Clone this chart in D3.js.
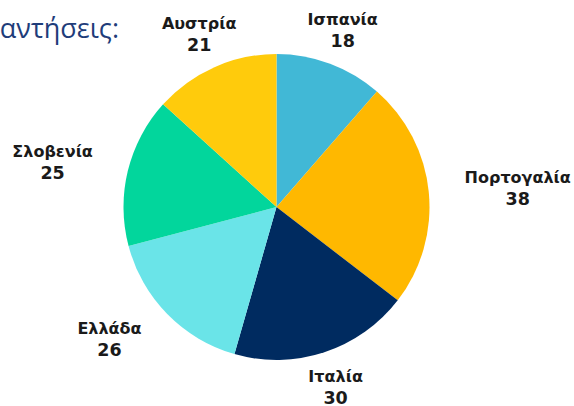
<!DOCTYPE html>
<html>
<head>
<meta charset="utf-8">
<script src="https://cdn.jsdelivr.net/npm/d3@7"></script>
<style>
  body { margin: 0; background: #fff; }
  svg { display: block; }
</style>
</head>
<body>
<div id="chart"></div>
<script>
// data, clockwise from 12 o'clock
var countries = ["Ισπανία", "Πορτογαλία", "Ιταλία", "Ελλάδα", "Σλοβενία", "Αυστρία"];
var answers = [18, 38, 30, 26, 25, 21];
var colors = ["#41B8D6", "#FFB800", "#002B60", "#6AE4E8", "#02D69C", "#FFCB0C"];
var title = "Απαντήσεις:";

var width = 574, height = 406,
    cx = 276.5, cy = 207,
    radius = 153,
    labelR = 189;

var svg = d3.select("#chart")
    .append("svg")
    .attr("width", width)
    .attr("height", height);

var rows = countries.map(function(c, i) {
    return { name: c, value: answers[i], color: colors[i] };
});

var pie = d3.pie()
    .sort(null)
    .value(function(d) { return d.value; });

var arc = d3.arc()
    .innerRadius(0)
    .outerRadius(radius);

var g = svg.append("g")
    .attr("transform", "translate(" + cx + "," + cy + ")");

var arcs = pie(rows);

g.selectAll("path")
    .data(arcs)
    .enter()
    .append("path")
    .attr("d", arc)
    .attr("fill", function(d) { return d.data.color; });

// title, cut off at the left edge like in the slide
svg.append("text")
    .attr("x", 119)
    .attr("y", 38)
    .attr("text-anchor", "end")
    .attr("font-family", "Open Sans, sans-serif")
    .attr("font-size", 27)
    .attr("fill", "#1F3D7A")
    .text(title);

var labels = g.selectAll("g.lbl")
    .data(arcs)
    .enter()
    .append("g")
    .attr("class", "lbl")
    .attr("font-family", "DejaVu Sans, sans-serif")
    .attr("font-weight", "bold")
    .attr("font-size", 16)
    .attr("fill", "#1a1a1a")
    .attr("text-anchor", "middle");

labels.append("text")
    .attr("class", "name")
    .text(function(d) { return d.data.name; });

labels.append("text")
    .attr("class", "val")
    .attr("font-size", 17.5)
    .text(function(d) { return d.data.value; });

// side labels are pushed out by half their width, top/bottom ones stay centred
labels.each(function(d) {
    var sel = d3.select(this);
    var w = sel.select("text.name").node().getComputedTextLength();
    var a = (d.startAngle + d.endAngle) / 2;
    var s = Math.sin(a), c = Math.cos(a);
    var k = Math.max(0, Math.min(1, (Math.abs(s) - 0.4) / 0.3));
    var x = labelR * s + Math.sign(s) * k * w / 2;
    var y = -labelR * c;
    sel.select("text.name").attr("x", x).attr("y", y - 5);
    sel.select("text.val").attr("x", x).attr("y", y + 17);
});
</script>
</body>
</html>
